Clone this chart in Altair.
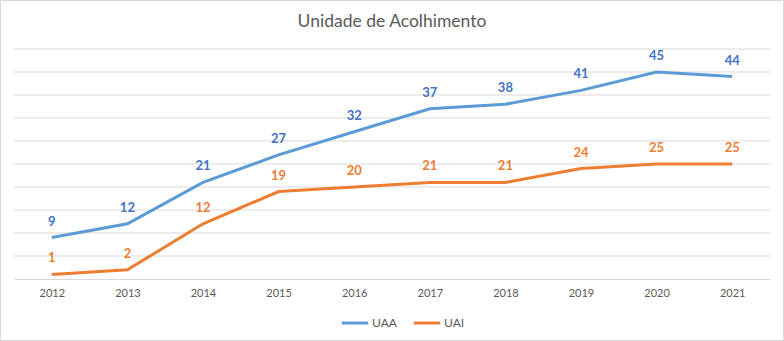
import altair as alt
import pandas as pd

years = ["2012", "2013", "2014", "2015", "2016", "2017", "2018", "2019", "2020", "2021"]
uaa = [9, 12, 21, 27, 32, 37, 38, 41, 45, 44]
uai = [1, 2, 12, 19, 20, 21, 21, 24, 25, 25]
grid_values = [5, 10, 15, 20, 25, 30, 35, 40, 45, 50]
series_names = ["UAA", "UAI"]
line_colors = ["#5B9BD5", "#ED7D31"]
label_colors = ["#4472C4", "#ED7D31"]
title_text = "Unidade de Acolhimento"

rows = []
for y, a, b in zip(years, uaa, uai):
    rows.append({"ano": y, "serie": "UAA", "valor": a})
    rows.append({"ano": y, "serie": "UAI", "valor": b})
df = pd.DataFrame(rows)
grid_df = pd.DataFrame({"valor": grid_values})
title_df = pd.DataFrame({"t": [title_text]})

FONT = "Lato"

x = alt.X("ano:O", sort=years, title=None,
          scale=alt.Scale(paddingInner=0, paddingOuter=0.5),
          axis=alt.Axis(labelAngle=0, labelFont=FONT, labelFontSize=11,
                        labelColor="#595959", domain=True, domainColor="#D9D9D9",
                        ticks=False, labelPadding=8, grid=False))
y = alt.Y("valor:Q", title=None,
          scale=alt.Scale(domain=[0, 50], nice=False),
          axis=None)

grid = alt.Chart(grid_df).mark_rule(stroke="#D9D9D9", strokeWidth=1).encode(y=y)

border = alt.Chart(title_df).mark_rect(fill=None, stroke="#D9D9D9", strokeWidth=1).encode(
    x=alt.value(-13.5), x2=alt.value(769.5), y=alt.value(-48.5), y2=alt.value(291.5)
)

title = alt.Chart(title_df).mark_text(
    font=FONT, fontSize=17.5, color="#595959", align="center", baseline="middle"
).encode(x=alt.value(378), y=alt.value(-27), text="t:N")

lines = alt.Chart(df).mark_line(strokeWidth=3).encode(
    x=x, y=y,
    color=alt.Color("serie:N", scale=alt.Scale(domain=series_names, range=line_colors),
                    legend=alt.Legend(title=None, orient="none", legendX=326, legendY=259,
                                      direction="horizontal", symbolType="stroke",
                                      symbolSize=700, symbolStrokeWidth=3,
                                      labelFont=FONT, labelFontSize=12,
                                      labelColor="#595959", columnPadding=10,
                                      labelOffset=2))
)

labels = alt.Chart(df).mark_text(dy=-16, fontWeight="bold", fontSize=13, font=FONT).encode(
    x=x,
    y=y,
    text=alt.Text("valor:Q"),
    color=alt.Color("serie:N", scale=alt.Scale(domain=series_names, range=label_colors),
                    legend=None)
)

chart = alt.layer(grid, lines, labels, border, title).resolve_scale(color="independent").properties(
    width=756, height=230,
    padding={"left": 14, "top": 49, "right": 14, "bottom": 62},
    autosize=alt.AutoSizeParams(type="none"),
    background="white",
).configure_view(stroke=None)

chart.save("out.html", embed_options={"renderer": "svg", "actions": False})
